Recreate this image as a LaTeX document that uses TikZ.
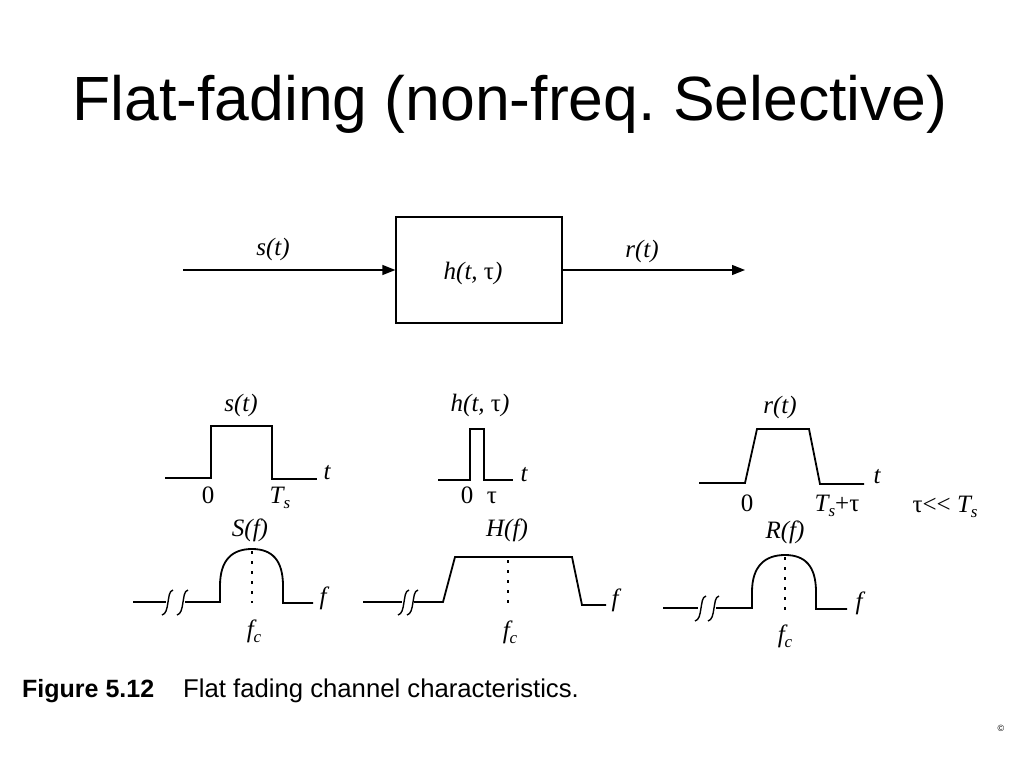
\documentclass[tikz,border=0pt]{standalone}
\usepackage{fontspec}
\setmainfont{Liberation Serif}
\newfontfamily\arialfont{Liberation Sans}
\usetikzlibrary{arrows.meta}
\newcommand{\up}[1]{{\upshape #1}}
\newcommand{\sub}[1]{\raisebox{-0.5ex}{\fontsize{17}{18}\selectfont #1}}
\frenchspacing
\tikzset{
	brk/.pic={\draw[line width=1.4pt] (5,-12) .. controls (1,-11) and (1,-5) .. (0,0) .. controls (-1,7) and (-2,12) .. (-6,13);}
}

\begin{document}
\begin{tikzpicture}[x=1pt,y=-1pt,
		every node/.style={inner sep=0pt},
		lbl/.style={font=\fontsize{25}{27}\selectfont\itshape, anchor=base},
		wave/.style={line width=1.8pt, line join=miter},
		centre/.style={line width=2pt, dash pattern=on 3pt off 7pt},
		flow/.style={line width=1.3pt, -{Triangle[length=13pt,width=10pt]}}]
		\fill[white] (0,0) rectangle (1024,768);
		\useasboundingbox (0,0) rectangle (1024,768);
		\node[font=\arialfont\fontsize{62.5}{70}\selectfont, anchor=base] (title) at (510,120) {Flat-fading (non-freq. Selective)};
		% channel block
		\node[draw, line width=1.3pt, minimum width=166pt, minimum height=106pt] (chan) at (479,270) {};
		\coordinate (sin) at (183,270);
		\coordinate (rout) at (745,270);
		\draw[flow] (sin) -- (chan.west);
		\draw[flow] (chan.east) -- (rout);
		\node[lbl] (chanlbl) at (473,279) {h(t, \up{τ})};
		\node[lbl] (sinlbl) at (273,255) {s(t)};
		\node[lbl] (routlbl) at (642,257) {r(t)};
		% time domain
		\coordinate (sa) at (165,478);
		\coordinate (sb) at (211,478);
		\coordinate (sc) at (211,426);
		\coordinate (sd) at (272,426);
		\coordinate (se) at (272,479);
		\coordinate (sf) at (317,479);
		\coordinate (ha) at (438,480);
		\coordinate (hb) at (470,480);
		\coordinate (hc) at (470,429);
		\coordinate (hd) at (484,429);
		\coordinate (he) at (484,480);
		\coordinate (hf) at (513,480);
		\coordinate (ra) at (699,483);
		\coordinate (rb) at (745,483);
		\coordinate (rc) at (757,429);
		\coordinate (rd) at (809,429);
		\coordinate (re) at (820,484);
		\coordinate (rf) at (864,484);
		\draw[wave] (sa) to (sb) to (sc) to (sd) to (se) to (sf);
		\draw[wave] (ha) to (hb) to (hc) to (hd) to (he) to (hf);
		\draw[wave] (ra) to (rb) to (rc) to (rd) to (re) to (rf);
		\node[lbl] at (241,411) {s(t)};
		\node[lbl] at (480,411) {h(t, \up{τ})};
		\node[lbl] at (780,413) {r(t)};
		\node[lbl] at (327,479) {t};
		\node[lbl] at (524,481) {t};
		\node[lbl] at (877,483) {t};
		\node[lbl] at (208,503) {\up{0}};
		\node[lbl] at (280,503) {T\sub{s}};
		\node[lbl] at (467,503) {\up{0}};
		\node[lbl] at (492,503) {\up{τ}};
		\node[lbl] at (747,511) {\up{0}};
		\node[lbl] at (837,511) {T\sub{s}\up{+τ}};
		\node[lbl] at (945,512) {\up{τ<{}<} T\sub{s}};
		% frequency domain
		\coordinate (Sa) at (133,602);
		\coordinate (Sb) at (166,602);
		\coordinate (Sc) at (185,602);
		\coordinate (Sd) at (220,602);
		\coordinate (Se) at (283,603);
		\coordinate (Sf) at (313,603);
		\coordinate (Ha) at (363,602);
		\coordinate (Hb) at (402,602);
		\coordinate (Hc) at (414,602);
		\coordinate (Hd) at (443,602);
		\coordinate (He) at (455,557);
		\coordinate (Hf) at (572,557);
		\coordinate (Hg) at (582,605);
		\coordinate (Hh) at (606,605);
		\coordinate (Ra) at (663,608);
		\coordinate (Rb) at (698,608);
		\coordinate (Rc) at (716,608);
		\coordinate (Rd) at (752,608);
		\coordinate (Re) at (816,609);
		\coordinate (Rf) at (847,609);
		\draw[wave] (Sa) to (Sb);
		\pic at (168,602) {brk};
		\pic at (183,602) {brk};
		\draw[wave] (Sc) to (Sd) -- ++(0,-16) .. controls (220,560) and (232,549) .. (252,549) .. controls (272,549) and (283,560) .. (283,586) -- (Se) to (Sf);
		\draw[wave] (Ha) to (Hb);
		\pic at (404,602) {brk};
		\pic at (413,602) {brk};
		\draw[wave] (Hc) to (Hd) to (He) to (Hf) to (Hg) to (Hh);
		\draw[wave] (Ra) to (Rb);
		\pic at (701,608) {brk};
		\pic at (714,608) {brk};
		\draw[wave] (Rc) to (Rd) -- ++(0,-16) .. controls (752,566) and (765,555) .. (785,555) .. controls (805,555) and (816,566) .. (816,592) -- (Re) to (Rf);
		\draw[centre] (252,551) -- (252,603);
		\draw[centre] (508,560) -- (508,605);
		\draw[centre] (785,557) -- (785,610);
		\node[lbl] at (250,536) {S(f)};
		\node[lbl] at (507,536) {H(f)};
		\node[lbl] at (785,538) {R(f)};
		\node[lbl] at (323,604) {f};
		\node[lbl] at (615,606) {f};
		\node[lbl] at (859,609) {f};
		\node[lbl] at (254,637) {f\sub{c}};
		\node[lbl] at (510,638) {f\sub{c}};
		\node[lbl] at (785,642) {f\sub{c}};
		% caption
		\node[font=\arialfont\bfseries\fontsize{25}{28}\selectfont, anchor=base west] (fig) at (22,697) {Figure 5.12};
		\node[font=\arialfont\fontsize{25.7}{28}\selectfont, anchor=base west] (cap) at (183,697) {Flat fading channel characteristics.};
		\node[font=\arialfont\fontsize{9}{10}\selectfont] (copy) at (1001,728) {©};
	\end{tikzpicture}
\end{document}
